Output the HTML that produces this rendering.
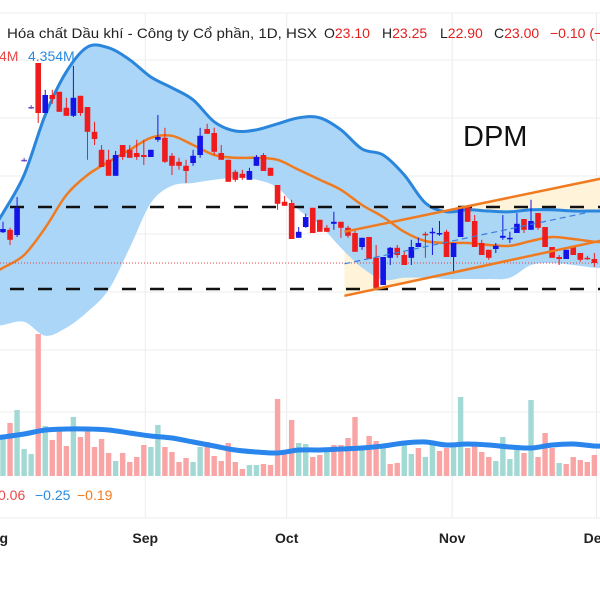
<!DOCTYPE html>
<html><head><meta charset="utf-8">
<style>
html,body{margin:0;padding:0;background:#fff;}
svg{display:block;font-family:"Liberation Sans","Noto Sans CJK SC",sans-serif;}
</style></head>
<body>
<svg id="chart" width="600" height="600" viewBox="0 0 600 600" xmlns="http://www.w3.org/2000/svg">
  <g id="grid"></g>
  <g id="channel"></g>
  <g id="bands"></g>
  <g id="levels"></g>
  <g id="candles"></g>
  <g id="volume"></g>
  <text x="463" y="146" font-size="29" fill="#111">DPM</text>
  <text x="7" y="38" font-size="14" fill="#222" textLength="310" lengthAdjust="spacingAndGlyphs">Hóa chất Dầu khí - Công ty Cổ phần, 1D, HSX</text>
  <text y="38" font-size="14"><tspan x="324" fill="#222">O</tspan><tspan fill="#e32020">23.10</tspan><tspan x="382" fill="#222">H</tspan><tspan fill="#e32020">23.25</tspan><tspan x="440" fill="#222">L</tspan><tspan fill="#e32020">22.90</tspan><tspan x="494" fill="#222">C</tspan><tspan fill="#e32020">23.00</tspan><tspan x="550" fill="#e32020">−0.10 (−</tspan></text>
  <text y="61" font-size="14"><tspan x="-1" fill="#e84a4a">4M</tspan><tspan x="28" fill="#2a8ae0">4.354M</tspan></text>
  <text y="500" font-size="14"><tspan x="-2" fill="#e84a4a">0.06</tspan><tspan x="35" fill="#2a8ae0">−0.25</tspan><tspan x="77" fill="#f07a20">−0.19</tspan></text>
  <g id="months" font-size="14" fill="#222" font-weight="bold" text-anchor="middle"></g>
</svg>
<script>
// ---- data ----
const opens  = [23.77,23.83,23.70,25.58,26.90,28.00,26.75,27.20,27.28,26.88,26.68,27.18,26.90,26.28,25.83,25.58,25.18,25.95,25.83,25.75,25.70,25.65,26.08,26.13,25.68,25.53,25.43,25.50,25.70,26.35,26.25,25.75,25.58,25.28,25.23,25.08,25.43,25.70,25.38,24.95,24.53,24.50,23.63,23.90,24.38,24.08,23.88,23.98,24.03,23.88,23.75,23.40,23.65,23.13,22.45,23.13,23.38,23.20,23.13,23.40,23.73,23.75,23.73,23.78,23.15,23.65,24.40,24.05,23.50,23.33,23.35,23.63,23.60,23.75,24.10,23.83,24.25,23.90,23.40,23.15,23.10,23.43,23.25,23.13,23.10];
const closes = [23.85,23.58,24.38,25.58,26.90,26.75,27.20,27.10,26.78,26.68,27.13,26.75,26.28,26.10,25.40,25.18,25.70,25.65,25.63,25.65,25.65,25.83,26.15,25.53,25.43,25.43,25.30,25.68,26.18,26.23,25.78,25.58,25.03,25.08,25.13,25.30,25.65,25.30,25.18,24.48,24.43,23.60,23.78,24.15,23.75,23.78,23.78,24.03,23.88,23.68,23.28,23.63,23.10,22.38,23.15,23.38,23.20,22.95,23.40,23.50,23.70,23.78,23.75,23.15,23.50,24.40,24.03,23.40,23.20,23.13,23.43,23.68,23.63,23.98,23.83,24.05,23.88,23.40,23.13,23.10,23.33,23.20,23.08,23.10,23.00];
const highs  = [24.03,23.88,24.65,25.63,26.95,28.00,27.33,27.33,27.28,27.13,27.93,27.18,26.90,26.53,25.95,25.83,25.80,25.95,25.95,26.08,26.08,25.83,26.70,26.38,25.75,25.63,25.58,25.83,26.38,26.48,26.38,25.95,25.58,25.33,25.33,25.38,25.70,25.75,25.38,24.95,24.68,24.58,23.90,24.23,24.38,24.08,23.95,24.28,24.03,23.93,23.83,23.63,23.65,23.45,23.15,23.40,23.45,23.28,23.58,23.63,23.78,23.88,24.05,23.83,23.50,24.40,24.40,24.20,23.58,23.33,23.50,24.20,23.78,24.25,24.10,24.58,24.25,23.90,23.40,23.20,23.33,23.43,23.25,23.18,23.25];
const lows   = [23.75,23.45,23.65,25.53,26.85,26.50,26.75,26.98,26.78,26.68,26.65,26.68,25.58,25.95,25.40,25.18,25.18,25.58,25.63,25.58,25.45,25.65,26.03,25.50,25.20,25.33,25.00,25.43,25.63,26.23,25.70,25.58,25.03,25.03,25.08,25.08,25.43,25.30,25.18,24.33,24.43,23.60,23.63,23.88,23.75,23.78,23.78,23.83,23.63,23.63,23.28,23.33,23.10,22.38,22.45,22.95,23.13,22.95,22.95,23.40,23.13,23.20,23.68,23.15,22.73,23.65,24.03,23.40,23.20,23.08,23.25,23.58,23.50,23.75,23.75,23.83,23.83,23.40,23.13,22.95,23.10,23.20,23.03,23.08,22.90];
const volumes = [5.85,7.95,9.9,4.05,3.3,21.3,7.5,5.4,6.9,4.5,8.85,5.85,6.9,4.35,5.55,3.45,2.25,3.45,2.1,2.85,4.65,4.35,7.65,4.35,3.6,2.1,2.7,2.1,4.35,5.1,3.0,2.25,4.95,2.1,1.05,1.65,1.65,1.8,1.65,11.55,3.45,8.4,4.95,4.8,2.85,3.15,3.6,4.65,4.65,5.7,8.85,4.35,6.0,5.25,4.5,1.8,1.95,4.65,3.3,4.2,2.85,5.25,3.75,4.2,4.95,11.85,4.2,5.1,3.6,2.85,2.25,5.85,2.55,3.9,3.45,11.4,2.85,6.45,4.2,1.95,1.8,2.85,2.4,2.1,3.15];
const volumeUp = [1,0,1,1,1,0,1,0,0,0,1,0,0,0,0,0,1,0,0,0,0,1,1,0,0,0,0,1,1,0,0,0,0,0,0,1,1,0,0,0,0,0,1,1,0,0,1,0,0,0,0,1,0,0,1,0,0,1,1,0,1,1,0,0,1,1,0,0,0,0,1,1,1,1,0,1,0,0,0,1,0,0,0,0,0];
const bandIdx = [0,3,6,9,12,15,18,21,24,27,30,33,36,39,42,45,48,51,54,57,60,63,66,69,72,75,78,81,84];
const bandUpper = [24.25,25.20,26.70,27.78,28.40,28.38,28.08,27.65,27.38,27.08,26.53,26.30,26.33,26.48,26.63,26.63,26.33,25.85,25.70,25.20,24.50,24.28,24.33,24.30,24.28,24.33,24.33,24.30,24.30];
const bandMid = [22.88,23.20,23.88,24.70,25.20,25.53,25.83,26.13,26.18,25.95,25.70,25.63,25.63,25.58,25.33,25.08,24.83,24.45,24.15,23.78,23.55,23.50,23.50,23.45,23.43,23.55,23.65,23.60,23.53];
const bandLower = [21.45,21.53,21.18,21.38,21.78,22.33,23.38,24.50,24.93,25.00,25.08,25.13,25.08,24.88,24.33,23.95,23.38,22.88,22.58,22.63,22.63,22.60,22.60,22.60,22.63,22.95,23.00,22.95,22.88];
const volMA = [5.85,6.3,6.9,7.05,7.05,6.9,6.45,6.0,5.7,5.1,4.5,3.9,3.6,3.45,3.9,3.9,4.05,4.2,4.5,4.95,5.1,4.65,4.8,4.65,4.35,4.2,4.65,4.8,4.5];
const levelPrices = [24.40, 22.35];
const lastClose = 23.00;
const channelIdx = [48.5, 85.5];
const channelUpper = [23.78, 25.13];
const channelLower = [22.18, 23.58];
const monthLabels = ["g","Sep","Oct","Nov","Dec"];
const monthIdx = [0.1, 20.2, 40.3, 63.8, 84.3];

// ---- axes ----
const xOf = i => 3 + i*7.04;
const yOf = p => 263 - (p-23)*40;
const vyOf = v => 476 - v/0.15;
const NS = "http://www.w3.org/2000/svg";
function mk(tag, attrs, parent){ const e=document.createElementNS(NS,tag); for(const k in attrs) e.setAttribute(k,attrs[k]); parent.appendChild(e); return e; }

// grid
const grid = document.getElementById('grid');
[13,60,118,176,234,292,350,412,518].forEach(y=>{
  const l = mk('line',{x1:0,x2:600,y1:y,y2:y,stroke:'#ececec','stroke-width':1},grid);
  
  
});
monthIdx.slice(1).forEach(i=>{
  const l = mk('line',{x1:xOf(i),x2:xOf(i),y1:13,y2:518,stroke:'#ececec','stroke-width':1},grid);
  
  
});

// channel fill
const ch = document.getElementById('channel');
const cx0 = xOf(channelIdx[0]), cx1 = xOf(channelIdx[1]);
const chPoly = mk('polygon',{points:`${cx0},${yOf(channelUpper[0])} ${cx1},${yOf(channelUpper[1])} ${cx1},${yOf(channelLower[1])} ${cx0},${yOf(channelLower[0])}`,fill:'#fff4da'},ch);



// bands
const bands = document.getElementById('bands');
const up = bandIdx.map((i,k)=>[xOf(i),yOf(bandUpper[k])]);
const lo = bandIdx.map((i,k)=>[xOf(i),yOf(bandLower[k])]);
const md = bandIdx.map((i,k)=>[xOf(i),yOf(bandMid[k])]);
function smooth(pts){
  let d=`M${pts[0][0]},${pts[0][1]}`;
  for(let i=0;i<pts.length-1;i++){
    const p0=pts[Math.max(0,i-1)],p1=pts[i],p2=pts[i+1],p3=pts[Math.min(pts.length-1,i+2)];
    const c1=[p1[0]+(p2[0]-p0[0])/6,p1[1]+(p2[1]-p0[1])/6];
    const c2=[p2[0]-(p3[0]-p1[0])/6,p2[1]-(p3[1]-p1[1])/6];
    d+=` C${c1[0]},${c1[1]} ${c2[0]},${c2[1]} ${p2[0]},${p2[1]}`;
  }
  return d;
}
const ext = pts => [[pts[0][0]-10,pts[0][1]+ (pts[0][1]-pts[1][1])*0.4], ...pts, [pts[pts.length-1][0]+10, pts[pts.length-1][1]]];
const upE = ext(up), loE = ext(lo), mdE = ext(md);
const fillD = smooth(upE) + ' L' + smooth(loE.slice().reverse()).slice(1) + ' Z';
const bf = mk('path',{d:fillD,fill:'#a4d2f6','fill-opacity':0.92},bands);


const bu = mk('path',{d:smooth(upE),fill:'none',stroke:'#2a86dc','stroke-width':3},bands);


const bm = mk('path',{d:smooth(mdE),fill:'none',stroke:'#f07a20','stroke-width':2.5},bands);



// channel lines
const cu = mk('line',{x1:cx0,y1:yOf(channelUpper[0]),x2:cx1,y2:yOf(channelUpper[1]),stroke:'#f07a20','stroke-width':2.5},ch.parentNode);


const cl = mk('line',{x1:cx0,y1:yOf(channelLower[0]),x2:cx1,y2:yOf(channelLower[1]),stroke:'#f07a20','stroke-width':2.5},ch.parentNode);


const cm = mk('line',{x1:cx0,y1:yOf((channelUpper[0]+channelLower[0])/2),x2:cx1,y2:yOf((channelUpper[1]+channelLower[1])/2),stroke:'#3a7ee0','stroke-width':1.2,'stroke-dasharray':'6,4'},ch.parentNode);



// levels
const lv = document.getElementById('levels');
levelPrices.forEach(p=>{
  const l = mk('line',{x1:10,x2:600,y1:yOf(p),y2:yOf(p),stroke:'#111','stroke-width':2.5,'stroke-dasharray':'14,14'},lv);
  
  
});
const lc = mk('line',{x1:0,x2:600,y1:yOf(lastClose),y2:yOf(lastClose),stroke:'#e04040','stroke-width':1,'stroke-dasharray':'1,2'},lv);



// candles
const cg = document.getElementById('candles');
opens.forEach((o,i)=>{
  const c = closes[i], x = xOf(i);
  const col = c > o ? '#1414e6' : (c < o ? '#ee1c1c' : '#6a4bc8');
  const g = mk('g',{},cg);
  
  
  mk('line',{x1:x,x2:x,y1:yOf(highs[i]),y2:yOf(lows[i]),stroke:col,'stroke-width':1},g);
  const top = Math.min(yOf(o),yOf(c)), h = Math.max(1.5,Math.abs(yOf(o)-yOf(c)));
  mk('rect',{x:x-2.8,y:top,width:5.6,height:h,fill:col},g);
});

// volume
const vg = document.getElementById('volume');
volumes.forEach((v,i)=>{
  const b = mk('rect',{x:xOf(i)-2.7,y:vyOf(v),width:5.4,height:476-vyOf(v),fill:volumeUp[i]?'#a3d9d4':'#f9a5a5'},vg);
  
  
});
const vm = bandIdx.map((i,k)=>[xOf(i),vyOf(volMA[k])]);
const vml = mk('path',{d:smooth(ext(vm)),fill:'none',stroke:'#2a86ec','stroke-width':5,'stroke-linejoin':'round'},vg);



// months
const mg = document.getElementById('months');
monthLabels.forEach((m,k)=>{
  const t = mk('text',{x:xOf(monthIdx[k]),y:543},mg);
  t.textContent = m;
  
  
});
</script>
</body></html>
